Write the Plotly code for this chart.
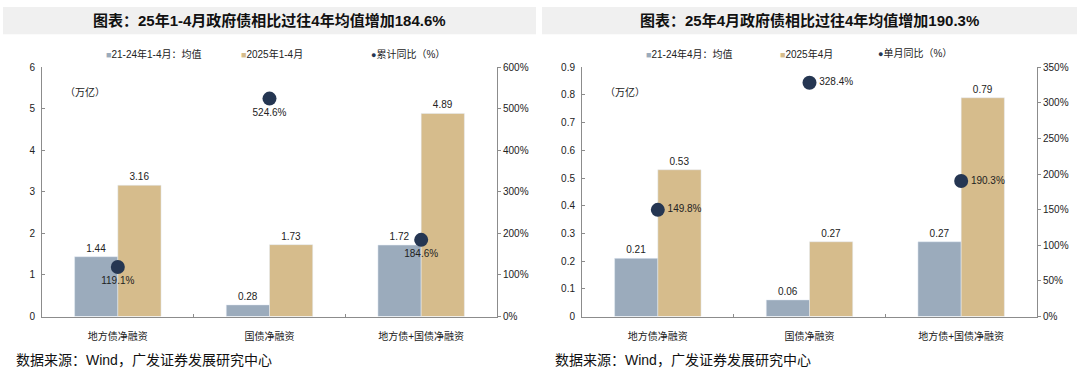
import plotly.graph_objects as go

categories = ["地方债净融资", "国债净融资", "地方债+国债净融资"]

# Left panel: 1-4月
left_avg = [1.44, 0.28, 1.72]
left_2025 = [3.16, 1.73, 4.89]
left_yoy = [119.1, 524.6, 184.6]
left_names = ["21-24年1-4月：均值", "2025年1-4月", "累计同比（%）"]
left_title = "图表：25年1-4月政府债相比过往4年均值增加184.6%"
left_yticks = [0, 1, 2, 3, 4, 5, 6]
left_y2ticks = [0, 100, 200, 300, 400, 500, 600]

# Right panel: 4月
right_avg = [0.21, 0.06, 0.27]
right_2025 = [0.53, 0.27, 0.79]
right_yoy = [149.8, 328.4, 190.3]
right_names = ["21-24年4月：均值", "2025年4月", "单月同比（%）"]
right_title = "图表：25年4月政府债相比过往4年均值增加190.3%"
right_yticks = [0, 0.1, 0.2, 0.3, 0.4, 0.5, 0.6, 0.7, 0.8, 0.9]
right_y2ticks = [0, 50, 100, 150, 200, 250, 300, 350]

source_text = "数据来源：Wind，广发证券发展研究中心"
unit_text = "（万亿）"

W, H = 1080, 377
C_AVG = "#9BABBC"
C_NEW = "#D6BC8C"
C_DOT = "#253652"
FONT = "Liberation Sans, Arial, Noto Sans CJK SC"
TXT = "#222222"


def px_x(x):
    return x / W


def px_y(y):
    return (H - y) / H


fig = go.Figure()


def add_panel(avg, new, yoy, names, xa, ya, ya2, dot_pos):
    fig.add_trace(go.Bar(x=categories, y=avg, name=names[0], marker_color=C_AVG,
                         text=[f"{v:.2f}" for v in avg], textposition="outside",
                         textfont=dict(size=10, color=TXT, family=FONT),
                         xaxis=xa, yaxis=ya, cliponaxis=False))
    fig.add_trace(go.Bar(x=categories, y=new, name=names[1], marker_color=C_NEW,
                         text=[f"{v:.2f}" for v in new], textposition="outside",
                         textfont=dict(size=10, color=TXT, family=FONT),
                         xaxis=xa, yaxis=ya, cliponaxis=False))
    fig.add_trace(go.Scatter(x=categories, y=yoy, name=names[2], mode="markers+text",
                             marker=dict(color=C_DOT, size=14),
                             text=[f"{v:.1f}%" for v in yoy], textposition=dot_pos,
                             textfont=dict(size=10, color=TXT, family=FONT),
                             xaxis=xa, yaxis=ya2, cliponaxis=False))


add_panel(left_avg, left_2025, left_yoy, left_names, "x", "y", "y2", "bottom center")
add_panel(right_avg, right_2025, right_yoy, right_names, "x3", "y3", "y4", "middle right")

axis_line = dict(showline=True, linecolor="#8C8C8C", linewidth=1, showgrid=False, zeroline=False,
                 tickfont=dict(size=10, color=TXT, family=FONT))

y0, y1 = px_y(320), px_y(64)
Ldom = [px_x(42), px_x(497)]
Rdom = [px_x(582), px_x(1037)]

fig.update_layout(
    width=W, height=H, margin=dict(l=0, r=0, t=0, b=0),
    paper_bgcolor="white", plot_bgcolor="white",
    barmode="group", bargap=0.43, bargroupgap=0,
    showlegend=False,
    font=dict(family=FONT, color=TXT),
    xaxis=dict(domain=Ldom, anchor="y", ticks="inside", tickson="boundaries", ticklen=3,
               tickcolor="#8C8C8C", ticklabelstandoff=10, **axis_line),
    yaxis=dict(domain=[y0, y1], anchor="x", range=[0, 6], tickvals=left_yticks,
               ticks="inside", ticklen=3, tickcolor="#8C8C8C", ticklabelstandoff=4, **axis_line),
    yaxis2=dict(overlaying="y", side="right", anchor="x", range=[0, 600], tickvals=left_y2ticks,
                ticktext=[f"{v}%" for v in left_y2ticks], ticks="outside", ticklen=3,
                tickcolor="#8C8C8C", **axis_line),
    xaxis3=dict(domain=Rdom, anchor="y3", ticks="inside", tickson="boundaries", ticklen=3,
                tickcolor="#8C8C8C", ticklabelstandoff=10, **axis_line),
    yaxis3=dict(domain=[y0, y1], anchor="x3", range=[0, 0.9], tickvals=right_yticks,
                ticktext=[("0" if v == 0 else f"{v:g}") for v in right_yticks],
                ticks="inside", ticklen=3, tickcolor="#8C8C8C", ticklabelstandoff=4, **axis_line),
    yaxis4=dict(overlaying="y3", side="right", anchor="x3", range=[0, 350], tickvals=right_y2ticks,
                ticktext=[f"{v}%" for v in right_y2ticks], ticks="outside", ticklen=3,
                tickcolor="#8C8C8C", **axis_line),
)

shapes = []
annotations = []
for (x0, x1, title) in [(3, 536, left_title), (542, 1077, right_title)]:
    shapes.append(dict(type="rect", xref="paper", yref="paper", x0=px_x(x0), x1=px_x(x1),
                       y0=px_y(30), y1=px_y(2), fillcolor="#F0F0F0", line=dict(width=0), layer="below"))
    annotations.append(dict(text=f"<b>{title}</b>", xref="paper", yref="paper",
                            x=px_x((x0 + x1) / 2), y=px_y(16), xanchor="center", yanchor="middle",
                            showarrow=False, font=dict(size=15, color="#111111", family=FONT)))

# legend entries (as text with coloured symbols)
legend_specs = [
    (left_names, [104, 239, 369]),
    (right_names, [644, 778, 876]),
]
for names, xs in legend_specs:
    syms = [("■", C_AVG, 9), ("■", C_NEW, 9), ("●", C_DOT, 9)]
    for (sym, col, fs), name, xx in zip(syms, names, xs):
        annotations.append(dict(
            text=f"<span style='color:{col};font-size:{fs}px'>{sym}</span>{name}",
            xref="paper", yref="paper", x=px_x(xx), y=px_y(50), xanchor="left", yanchor="middle",
            showarrow=False, font=dict(size=10, color=TXT, family=FONT)))

for xs in [14, 553]:
    annotations.append(dict(text=source_text, xref="paper", yref="paper", x=px_x(xs), y=px_y(365),
                            xanchor="left", yanchor="middle", showarrow=False,
                            font=dict(size=14, color="#111111", family=FONT)))
for xs in [63, 603]:
    annotations.append(dict(text=unit_text, xref="paper", yref="paper", x=px_x(xs), y=px_y(89),
                            xanchor="left", yanchor="middle", showarrow=False,
                            font=dict(size=10, color=TXT, family=FONT)))
fig.update_layout(shapes=shapes, annotations=annotations)

fig.write_html("out.html", config={"displayModeBar": False},
               post_script="document.body.style.margin='0';document.body.style.overflow='hidden';")
